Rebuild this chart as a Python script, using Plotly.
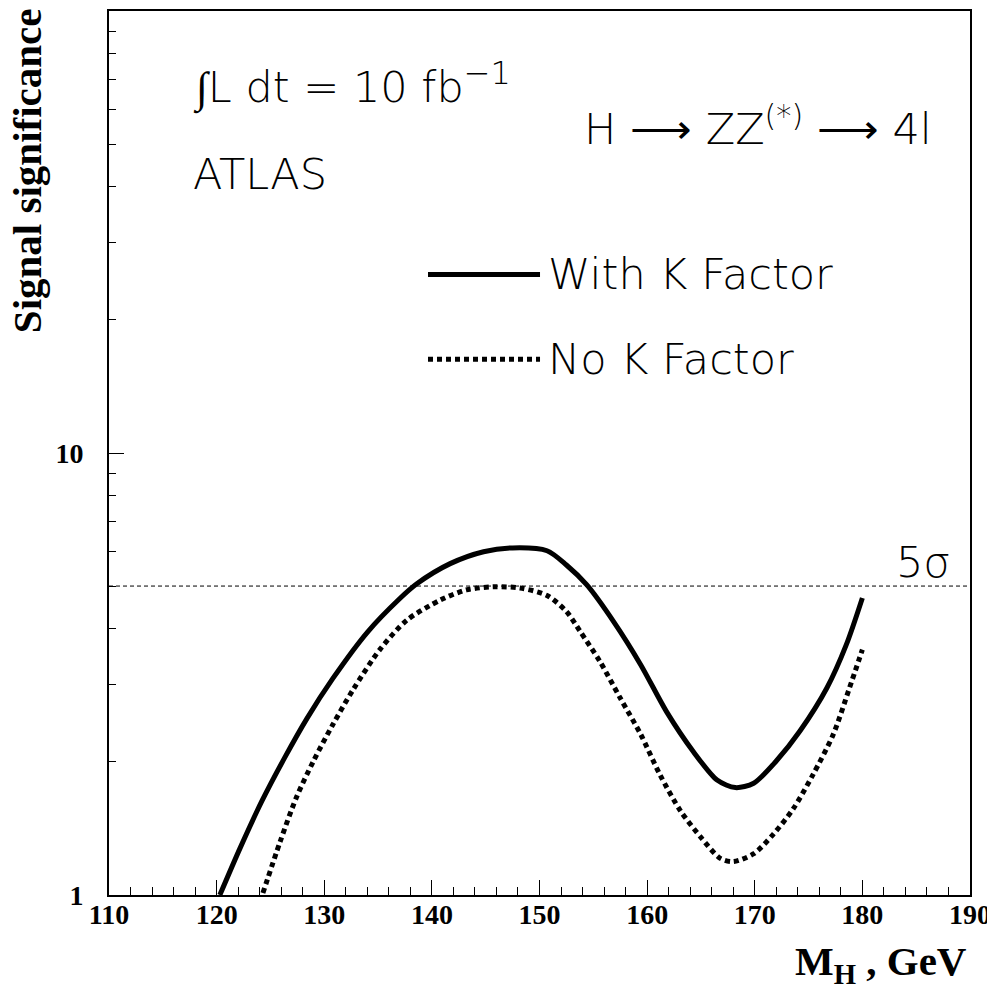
import plotly.graph_objects as go

# Data
mass_k = [120.3, 122.2, 124.2, 126.3, 128.4, 130.8, 134.0, 137.0, 138.6, 141.7, 144.8,
          147.5, 150.7, 152.5, 154.4, 156.9, 159.4, 161.8, 164.3, 166.5, 168.2, 169.9,
          172.0, 174.2, 176.7, 178.5, 180.0]
signif_k = [1.0, 1.28, 1.63, 2.04, 2.51, 3.09, 3.93, 4.68, 5.06, 5.62, 5.98,
            6.10, 6.01, 5.58, 5.03, 4.15, 3.32, 2.60, 2.11, 1.82, 1.75, 1.79,
            2.01, 2.35, 2.94, 3.68, 4.70]

mass_nok = [124.3, 125.9, 127.4, 129.0, 130.8, 132.7, 135.2, 137.7, 140.8, 143.2, 145.7,
            148.2, 150.7, 152.5, 153.8, 155.6, 157.5, 159.4, 161.2, 163.1, 165.0, 166.8,
            168.0, 169.9, 171.7, 173.6, 175.4, 177.3, 178.8, 180.0]
signif_nok = [1.01, 1.32, 1.66, 2.01, 2.43, 2.92, 3.60, 4.19, 4.65, 4.90, 4.98,
              4.95, 4.76, 4.38, 3.94, 3.38, 2.79, 2.31, 1.87, 1.55, 1.35, 1.21,
              1.19, 1.24, 1.37, 1.57, 1.87, 2.31, 2.94, 3.59]

five_sigma = 5
x_range = [110, 190]
x_ticks = [110, 120, 130, 140, 150, 160, 170, 180, 190]
y_ticks = [1, 10]
y_ticklabels = ["1", "10"]
y_minor = [2, 3, 4, 5, 6, 7, 8, 9, 20, 30, 40, 50, 60, 70, 80, 90]

TXT = dict(family="DejaVu Sans", size=43, color="black", weight=200)
SERIF_B = dict(family="Liberation Serif", color="black", weight="bold")
DOTS = "5px,4px"

fig = go.Figure()
fig.add_trace(go.Scatter(x=mass_k, y=signif_k, mode="lines",
                         line=dict(color="black", width=5, shape="spline", smoothing=0.8),
                         name="With K Factor", showlegend=False))
fig.add_trace(go.Scatter(x=mass_nok, y=signif_nok, mode="lines",
                         line=dict(color="black", width=5, dash=DOTS, shape="spline", smoothing=0.8),
                         name="No K Factor", showlegend=False))

# 5 sigma line
fig.add_shape(type="line", xref="paper", x0=0, x1=1, yref="y", y0=five_sigma, y1=five_sigma,
              line=dict(color="black", width=1, dash="4px,3px"))

# legend samples
fig.add_shape(type="line", xref="paper", yref="paper", x0=0.3705, x1=0.5006, y0=0.702, y1=0.702,
              line=dict(color="black", width=5))
fig.add_shape(type="line", xref="paper", yref="paper", x0=0.3705, x1=0.5006, y0=0.606, y1=0.606,
              line=dict(color="black", width=5, dash=DOTS))

ann = [
    dict(text="∫L dt = 10 fb<sup><span style='font-size:32px'>−1</span></sup>",
         x=0.0953, y=0.917, xanchor="left", yanchor="middle"),
    dict(text="ATLAS", x=0.0953, y=0.816, xanchor="left", yanchor="middle"),
    dict(text="H ⟶ ZZ<sup>(*)</sup> ⟶ 4l", x=0.5495, y=0.870, xanchor="left", yanchor="middle"),
    dict(text="With K Factor", x=0.5076, y=0.702, xanchor="left", yanchor="middle"),
    dict(text="No K Factor", x=0.5076, y=0.606, xanchor="left", yanchor="middle"),
    dict(text="5σ", x=0.912, y=0.377, xanchor="left", yanchor="middle"),
]
for a in ann:
    fig.add_annotation(xref="paper", yref="paper", showarrow=False, font=TXT, **a)

fig.add_annotation(xref="paper", yref="paper", x=-0.0953, y=1.006, xanchor="center", yanchor="top",
                   text="Signal significance", textangle=-90, showarrow=False,
                   font=dict(size=41, **SERIF_B))
fig.add_annotation(xref="paper", yref="paper", x=0.9985, y=-0.046, xanchor="right", yanchor="top",
                   text="M<sub>H</sub> , GeV", showarrow=False,
                   font=dict(size=41, **SERIF_B))

fig.update_layout(
    width=995, height=984,
    margin=dict(l=101, r=33, t=1, b=97),
    paper_bgcolor="white", plot_bgcolor="white",
    showlegend=False,
)
fig.update_xaxes(range=x_range, tickvals=x_ticks, ticks="inside", ticklen=15, tickwidth=1,
                 tickcolor="black", showline=True, linecolor="black", linewidth=2, mirror=True,
                 showgrid=False, zeroline=False, ticklabelstandoff=-7,
                 tickfont=dict(size=28, **SERIF_B),
                 minor=dict(dtick=2, ticks="inside", ticklen=8, tickwidth=1, tickcolor="black",
                            showgrid=False))
fig.update_yaxes(type="log", range=[0, 2], tickvals=y_ticks, ticktext=y_ticklabels,
                 ticks="inside", ticklen=15, tickwidth=1, tickcolor="black",
                 showline=True, linecolor="black", linewidth=2, mirror=True,
                 showgrid=False, zeroline=False, ticklabelstandoff=18,
                 tickfont=dict(size=28, **SERIF_B),
                 minor=dict(tickmode="array", tickvals=y_minor, ticks="inside", ticklen=7,
                            tickwidth=1, tickcolor="black", showgrid=False))

fig.write_html("out.html")
